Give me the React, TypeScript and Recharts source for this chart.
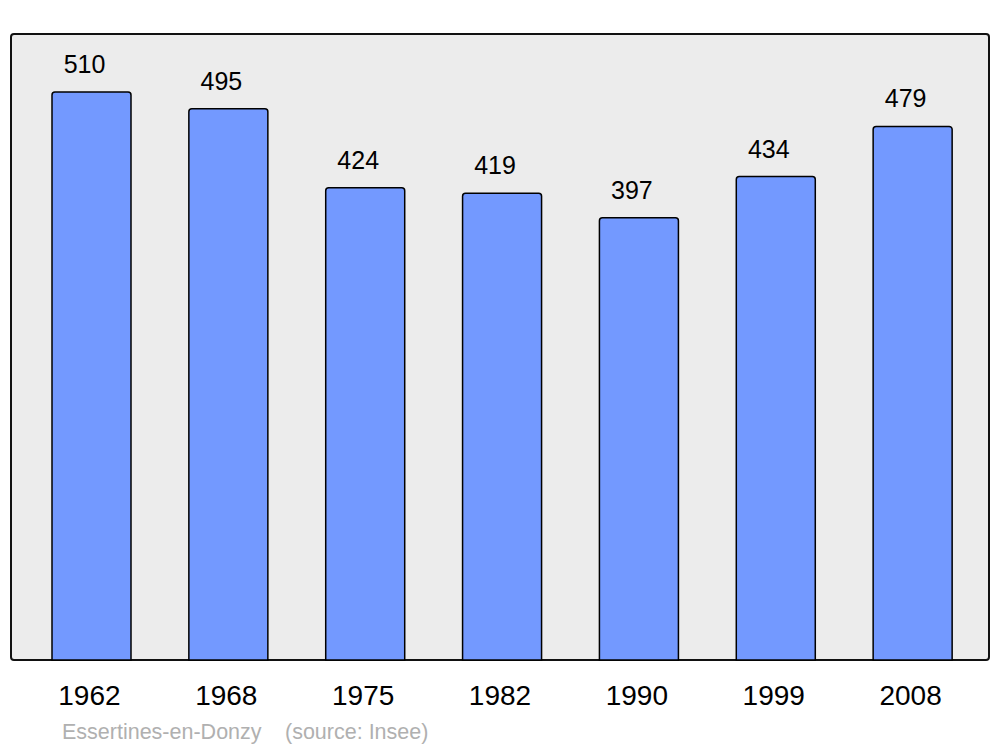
import React from "react";
import { BarChart, Bar, XAxis, YAxis, LabelList } from "recharts";

const years = ["1962", "1968", "1975", "1982", "1990", "1999", "2008"];
const population = [510, 495, 424, 419, 397, 434, 479];
const data = years.map((y, i) => ({ year: y, pop: population[i] }));

const FONT = "'Liberation Sans', Arial, sans-serif";

const Tick = (props: any) => {
  const { x, y, payload } = props;
  return (
    <text x={x - 2} y={y + 45} textAnchor="middle" fontSize={28} fontFamily={FONT} fill="#000">
      {payload.value}
    </text>
  );
};

const ValueLabel = (props: any) => {
  const { x, y, width, value } = props;
  return (
    <text x={x + width / 2 - 7} y={y - 19} textAnchor="middle" fontSize={25} fontFamily={FONT} fill="#000">
      {value}
    </text>
  );
};

export default function App() {
  return (
    <div style={{ position: "absolute", left: 0, top: 0, width: 1000, height: 747, background: "#fff" }}>
      <div
        style={{
          position: "absolute",
          left: 10,
          top: 33,
          width: 980,
          height: 628,
          boxSizing: "border-box",
          border: "2px solid #111",
          borderRadius: 4,
          background: "#ececec",
        }}
      />
      <div style={{ position: "absolute", left: 0, top: 0 }}>
        <BarChart width={1000} height={747} data={data} margin={{ top: 34, right: 19, bottom: 57, left: 23 }}>
          <XAxis dataKey="year" height={30} axisLine={false} tickLine={false} tickSize={0} tickMargin={0} tick={<Tick />} interval={0} />
          <YAxis hide domain={[0, 562]} />
          <Bar dataKey="pop" fill="#7399ff" stroke="#000" strokeWidth={1.5} barSize={79} radius={[3, 3, 0, 0]} isAnimationActive={false}>
            <LabelList dataKey="pop" content={<ValueLabel />} />
          </Bar>
        </BarChart>
      </div>
      <div
        style={{
          position: "absolute",
          left: 62,
          top: 720,
          fontFamily: FONT,
          fontSize: 21.5,
          color: "#b0b0b0",
          whiteSpace: "pre",
          lineHeight: "24px",
        }}
      >
        Essertines-en-Donzy
      </div>
      <div
        style={{
          position: "absolute",
          left: 285,
          top: 720,
          fontFamily: FONT,
          fontSize: 21.5,
          color: "#b0b0b0",
          whiteSpace: "pre",
          lineHeight: "24px",
        }}
      >
        (source: Insee)
      </div>
    </div>
  );
}
